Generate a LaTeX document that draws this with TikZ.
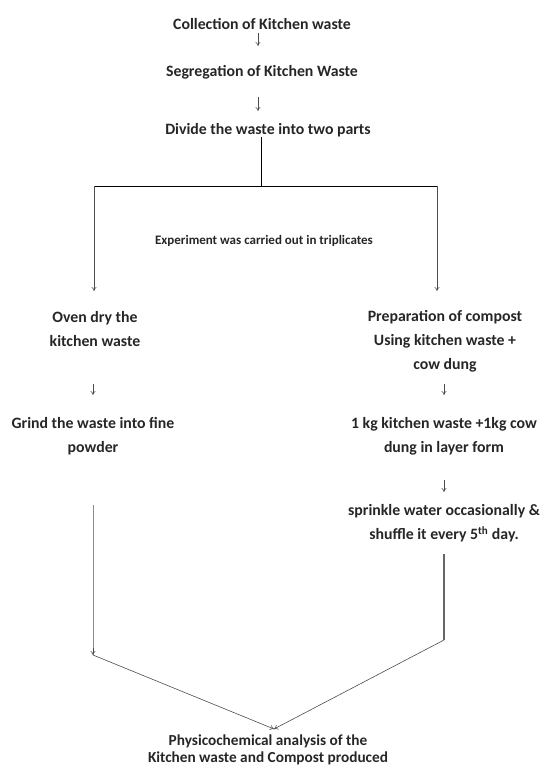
\documentclass[tikz,border=0pt]{standalone}
\usepackage{fontspec}
\setmainfont{Carlito}
\usetikzlibrary{arrows.meta}
\begin{document}
\begin{tikzpicture}[x=1pt,y=-1pt,
  txt/.style={font=\fontsize{15.8}{24}\selectfont\bfseries, align=center, inner sep=0pt, text=black!85},
  fintxt/.style={font=\fontsize{15.3}{17}\selectfont\bfseries, align=center, inner sep=0pt, text=black!85},
  small/.style={font=\fontsize{13}{15}\selectfont\bfseries, inner sep=0pt, text=black!85},
  arr/.style={-{To[length=4pt,width=5pt]}, draw=black!70, line width=0.6pt},
  ln/.style={draw=black, line width=0.9pt}]
\useasboundingbox (0,0) rectangle (541,769);
\node[txt] (n1) at (262,24) {Collection of Kitchen waste};
\node[txt] (n2) at (262,72) {Segregation of Kitchen Waste};
\node[txt] (n3) at (268,130) {Divide the waste into two parts};
\node[small] (exp) at (264,241) {Experiment was carried out in triplicates};
\node[txt] (l1) at (95,329) {Oven dry the\\kitchen waste};
\node[txt] (r1) at (445,341) {Preparation of compost\\Using kitchen waste +\\cow dung};
\node[txt] (l2) at (93,436) {Grind the waste into fine\\powder};
\node[txt] (r2) at (444,436) {1 kg kitchen waste +1kg cow\\dung in layer form};
\node[txt] (r3) at (444,523) {sprinkle water occasionally \&\\shuffle it every 5\textsuperscript{th} day.};
\node[fintxt] (fin) at (268,750) {Physicochemical analysis of the\\Kitchen waste and Compost produced};

\coordinate (a1s) at (258,33); \coordinate (a1e) at (258,46);
\draw[arr] (a1s) -- (a1e);
\coordinate (a2s) at (258,97); \coordinate (a2e) at (258,111);
\draw[arr] (a2s) -- (a2e);
\coordinate (split) at (261,186);
\coordinate (splitL) at (94,186);
\coordinate (splitR) at (437,186);
\draw[ln] (n3.south -| split) -- (split);
\draw[ln] (splitL) -- (splitR);
\draw[arr] (splitL) -- (94,291);
\draw[arr] (splitR) -- (437,291);
\draw[arr] (93,384) -- (93,395);
\draw[arr] (444,384) -- (444,395);
\draw[arr] (444,480) -- (444,492);
\coordinate (lb) at (93,655);
\coordinate (rb) at (444,640);
\coordinate (meet) at (274,729);
\draw[draw=black!45, line width=1pt] (93,505) -- (lb);
\draw[draw=black!60, line width=1.3pt] (444,554) -- (rb);
\draw[-{To[length=4pt,width=5pt]}, draw=black!70, line width=0.6pt] (93,648) -- (lb);
\draw[arr] (lb) -- (meet);
\draw[arr] (rb) -- (meet);
\end{tikzpicture}
\end{document}
